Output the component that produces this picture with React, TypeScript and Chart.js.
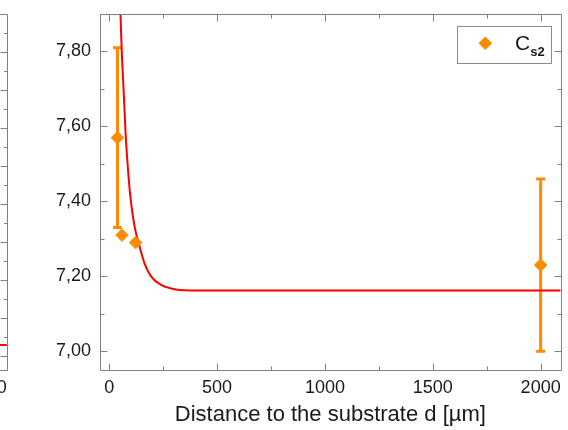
import React, { useEffect, useRef } from 'react';
import { Chart, registerables } from 'chart.js';

Chart.register(...registerables);

const FONT = "'Liberation Sans', Arial, Helvetica, sans-serif";
const ORANGE = '#ff8a00';
const RED = '#ff0000';
const FRAME = '#808080';
const TEXT = '#1a1a1a';

// Measured C_s2 values
const distances = [38, 59, 122, 2000];
const cs2Values = [7.57, 7.31, 7.29, 7.23];
const cs2Errors = [0.24, 0, 0, 0.23];

// Fitted curve
const curveD = [42, 52, 57, 67.2, 76.4, 87, 99.4, 117.8, 140.7, 163.7, 194.5, 240.4, 309, 401, 646, 1000, 1500, 2093];
const curveV = [8.08, 7.9, 7.813, 7.688, 7.573, 7.484, 7.404, 7.332, 7.279, 7.234, 7.199, 7.177, 7.165, 7.162, 7.162, 7.162, 7.162, 7.162];

// Axis ticks
const xTicks = [0, 500, 1000, 1500, 2000];
const xMinorTicks = [250, 750, 1250, 1750];
const yTicks = [7.0, 7.2, 7.4, 7.6, 7.8];
const yMinorTicks = [7.1, 7.3, 7.5, 7.7, 7.9];

const xTitle = 'Distance to the substrate d [µm]';
const legendMain = 'C';
const legendSub = 's2';

// Fragment of the neighbouring panel, cut off at the left edge
const leftD = [1000, 2093];
const leftV = [0.29, 0.29];
const leftEdge = 2093;
const leftXTicks = [2000];
const leftYTicks = [0, 1, 2, 3, 4, 5, 6, 7, 8];
const leftYMinorTicks = [0.5, 1.5, 2.5, 3.5, 4.5, 5.5, 6.5, 7.5, 8.5];

const frameTicks = {
  id: 'frameTicks',
  afterDatasetsDraw(chart: any, _a: any, o: any) {
    if (!o || !o.enabled) return;
    const { ctx, chartArea: a } = chart;
    const xs = chart.scales.x;
    const ys = chart.scales.y;
    const L = Math.round(a.left) + 0.5;
    const R = Math.round(a.right) + 0.5;
    const T = Math.round(a.top) + 0.5;
    const B = Math.round(a.bottom) + 0.5;
    ctx.save();
    ctx.strokeStyle = o.color;
    ctx.lineWidth = 1;
    ctx.beginPath();
    ctx.moveTo(L, T);
    ctx.lineTo(R, T);
    ctx.lineTo(R, B);
    ctx.lineTo(L, B);
    ctx.closePath();
    ctx.stroke();
    const vt = (vals: number[], len: number) => {
      vals.forEach((v) => {
        const p = Math.round(xs.getPixelForValue(v)) + 0.5;
        ctx.beginPath();
        ctx.moveTo(p, B); ctx.lineTo(p, B - len);
        ctx.moveTo(p, T); ctx.lineTo(p, T + len);
        ctx.stroke();
      });
    };
    const ht = (vals: number[], len: number) => {
      vals.forEach((v) => {
        const p = Math.round(ys.getPixelForValue(v)) + 0.5;
        ctx.beginPath();
        ctx.moveTo(L, p); ctx.lineTo(L + len, p);
        ctx.moveTo(R, p); ctx.lineTo(R - len, p);
        ctx.stroke();
      });
    };
    vt(o.xMajor, o.major);
    vt(o.xMinor, o.minor);
    ht(o.yMajor, o.major);
    ht(o.yMinor, o.minor);

    // neighbouring panel: frame edge, inward ticks and the last tick label
    const xl = chart.scales.xL;
    const yl = chart.scales.yL;
    const E = Math.round(xl.getPixelForValue(o.leftEdge)) + 0.5;
    ctx.beginPath();
    ctx.moveTo(-5, T); ctx.lineTo(E, T); ctx.lineTo(E, B); ctx.lineTo(-5, B);
    ctx.stroke();
    const lt = (vals: number[], len: number) => {
      vals.forEach((v) => {
        const p = Math.round(yl.getPixelForValue(v)) + 0.5;
        ctx.beginPath();
        ctx.moveTo(E, p); ctx.lineTo(E - len, p);
        ctx.stroke();
      });
    };
    lt(o.leftYMajor, o.major);
    lt(o.leftYMinor, 3.5);
    ctx.fillStyle = o.textColor;
    ctx.font = `18px ${FONT}`;
    ctx.textAlign = 'center';
    ctx.textBaseline = 'middle';
    const ly = xs.top + 7 + 10.8;
    o.leftXTicks.forEach((v: number) => {
      ctx.fillText(String(v), xl.getPixelForValue(v), ly);
    });
    ctx.restore();
  },
};

const errorBars = {
  id: 'errorBars',
  beforeDatasetsDraw(chart: any, _a: any, o: any) {
    if (!o || !o.enabled) return;
    const { ctx } = chart;
    const xs = chart.scales.x;
    const ys = chart.scales.y;
    ctx.save();
    ctx.strokeStyle = o.color;
    ctx.lineWidth = 3;
    ctx.lineCap = 'butt';
    o.x.forEach((xv: number, i: number) => {
      const e = o.err[i];
      if (!e) return;
      const px = xs.getPixelForValue(xv);
      const pt = ys.getPixelForValue(o.y[i] + e);
      const pb = ys.getPixelForValue(o.y[i] - e);
      ctx.beginPath();
      ctx.moveTo(px, pt);
      ctx.lineTo(px, pb);
      ctx.moveTo(px - 4.5, pt);
      ctx.lineTo(px + 4.5, pt);
      ctx.moveTo(px - 4.5, pb);
      ctx.lineTo(px + 4.5, pb);
      ctx.stroke();
    });
    ctx.restore();
  },
};

const customLegend = {
  id: 'customLegend',
  afterDraw(chart: any, _a: any, o: any) {
    if (!o || !o.enabled) return;
    const { ctx, chartArea: a } = chart;
    const bx = Math.round(a.right) - 104 + 0.5;
    const by = Math.round(a.top) + 12 + 0.5;
    const bw = 94;
    const bh = 37;
    ctx.save();
    ctx.fillStyle = '#ffffff';
    ctx.fillRect(bx, by, bw, bh);
    ctx.strokeStyle = '#8c8c8c';
    ctx.lineWidth = 1;
    ctx.strokeRect(bx, by, bw, bh);
    const cx = bx + 27.8;
    const cy = by + 16.8;
    const r = 6.8;
    ctx.fillStyle = o.color;
    ctx.beginPath();
    ctx.moveTo(cx - r, cy);
    ctx.lineTo(cx, cy - r);
    ctx.lineTo(cx + r, cy);
    ctx.lineTo(cx, cy + r);
    ctx.closePath();
    ctx.fill();
    ctx.fillStyle = TEXT;
    ctx.textBaseline = 'alphabetic';
    ctx.textAlign = 'left';
    ctx.font = `21px ${FONT}`;
    ctx.fillText(o.main, bx + 57.5, by + 23.5);
    const w = ctx.measureText(o.main).width;
    ctx.font = `bold 13px ${FONT}`;
    ctx.fillText(o.sub, bx + 57.5 + w, by + 29.2);
    ctx.restore();
  },
};

const hiddenAxis = (min: number, max: number, pos: string) => ({
  type: 'linear',
  position: pos,
  min,
  max,
  afterBuildTicks: (s: any) => { s.ticks = []; },
  afterFit: (s: any) => {
    s.width = pos === 'left' ? 0 : s.width;
    s.height = pos === 'bottom' ? 0 : s.height;
    s.paddingTop = 0; s.paddingBottom = 0; s.paddingLeft = 0; s.paddingRight = 0;
  },
  grid: { display: false, drawTicks: false },
  border: { display: false },
  ticks: { display: false },
});

export default function App() {
  const mainRef = useRef<HTMLCanvasElement>(null);

  useEffect(() => {
    const curve = curveD.map((d, i) => ({ x: d, y: curveV[i] }));
    const pts = distances.map((d, i) => ({ x: d, y: cs2Values[i] }));
    const left = leftD.map((d, i) => ({ x: d, y: leftV[i] }));

    const chart = new Chart(mainRef.current as HTMLCanvasElement, {
      type: 'scatter',
      data: {
        datasets: [
          {
            type: 'line',
            data: curve,
            borderColor: RED,
            borderWidth: 2,
            pointRadius: 0,
            fill: false,
            cubicInterpolationMode: 'monotone',
            order: 2,
          } as any,
          {
            type: 'scatter',
            data: pts,
            backgroundColor: ORANGE,
            borderColor: ORANGE,
            borderWidth: 1,
            pointStyle: 'rectRot',
            pointRadius: 6.3,
            order: 1,
          } as any,
          {
            type: 'line',
            data: left,
            xAxisID: 'xL',
            yAxisID: 'yL',
            borderColor: RED,
            borderWidth: 2,
            pointRadius: 0,
            fill: false,
            clip: false,
            order: 3,
          } as any,
        ],
      },
      options: {
        animation: false,
        responsive: false,
        layout: { padding: { top: 14, right: 3, left: 0, bottom: 0 } },
        scales: {
          x: {
            type: 'linear',
            min: -43,
            max: 2093,
            afterBuildTicks: (s: any) => { s.ticks = xTicks.map((v) => ({ value: v })); },
            afterFit: (s: any) => { s.height = 60; s.paddingLeft = 0; s.paddingRight = 0; },
            grid: { display: false, drawTicks: false },
            border: { display: false },
            ticks: {
              autoSkip: false,
              maxRotation: 0,
              padding: 7,
              color: TEXT,
              font: { family: FONT, size: 18 },
              callback: (v: any) => String(v),
            },
            title: {
              display: true,
              text: xTitle,
              color: TEXT,
              font: { family: FONT, size: 22 },
              padding: { top: 0, bottom: 2 },
            },
          },
          y: {
            type: 'linear',
            min: 6.95,
            max: 7.9,
            afterBuildTicks: (s: any) => { s.ticks = yTicks.map((v) => ({ value: v })); },
            afterFit: (s: any) => { s.width = 100; s.paddingTop = 0; s.paddingBottom = 0; },
            grid: { display: false, drawTicks: false },
            border: { display: false },
            ticks: {
              autoSkip: false,
              padding: 9,
              color: TEXT,
              font: { family: FONT, size: 18 },
              callback: (v: any) => Number(v).toFixed(2).replace('.', ','),
            },
          },
          xL: hiddenAxis(2525, 4661, 'bottom'),
          yL: hiddenAxis(-0.369, 9.01, 'left'),
        } as any,
        plugins: {
          legend: { display: false },
          tooltip: { enabled: false },
          frameTicks: {
            enabled: true, color: FRAME, textColor: TEXT, major: 7, minor: 4,
            xMajor: xTicks, xMinor: xMinorTicks, yMajor: yTicks, yMinor: yMinorTicks,
            leftEdge, leftXTicks, leftYMajor: leftYTicks, leftYMinor: leftYMinorTicks,
          },
          errorBars: { enabled: true, color: ORANGE, x: distances, y: cs2Values, err: cs2Errors },
          customLegend: { enabled: true, color: ORANGE, main: legendMain, sub: legendSub },
        } as any,
      },
      plugins: [frameTicks, errorBars, customLegend],
    });

    return () => {
      chart.destroy();
    };
  }, []);

  return (
    <div style={{ position: 'fixed', left: 0, top: 0, width: 568, height: 430, overflow: 'hidden', background: '#fff' }}>
      <canvas ref={mainRef} width={568} height={430} style={{ position: 'absolute', left: 0, top: 0, width: 568, height: 430 }} />
    </div>
  );
}
